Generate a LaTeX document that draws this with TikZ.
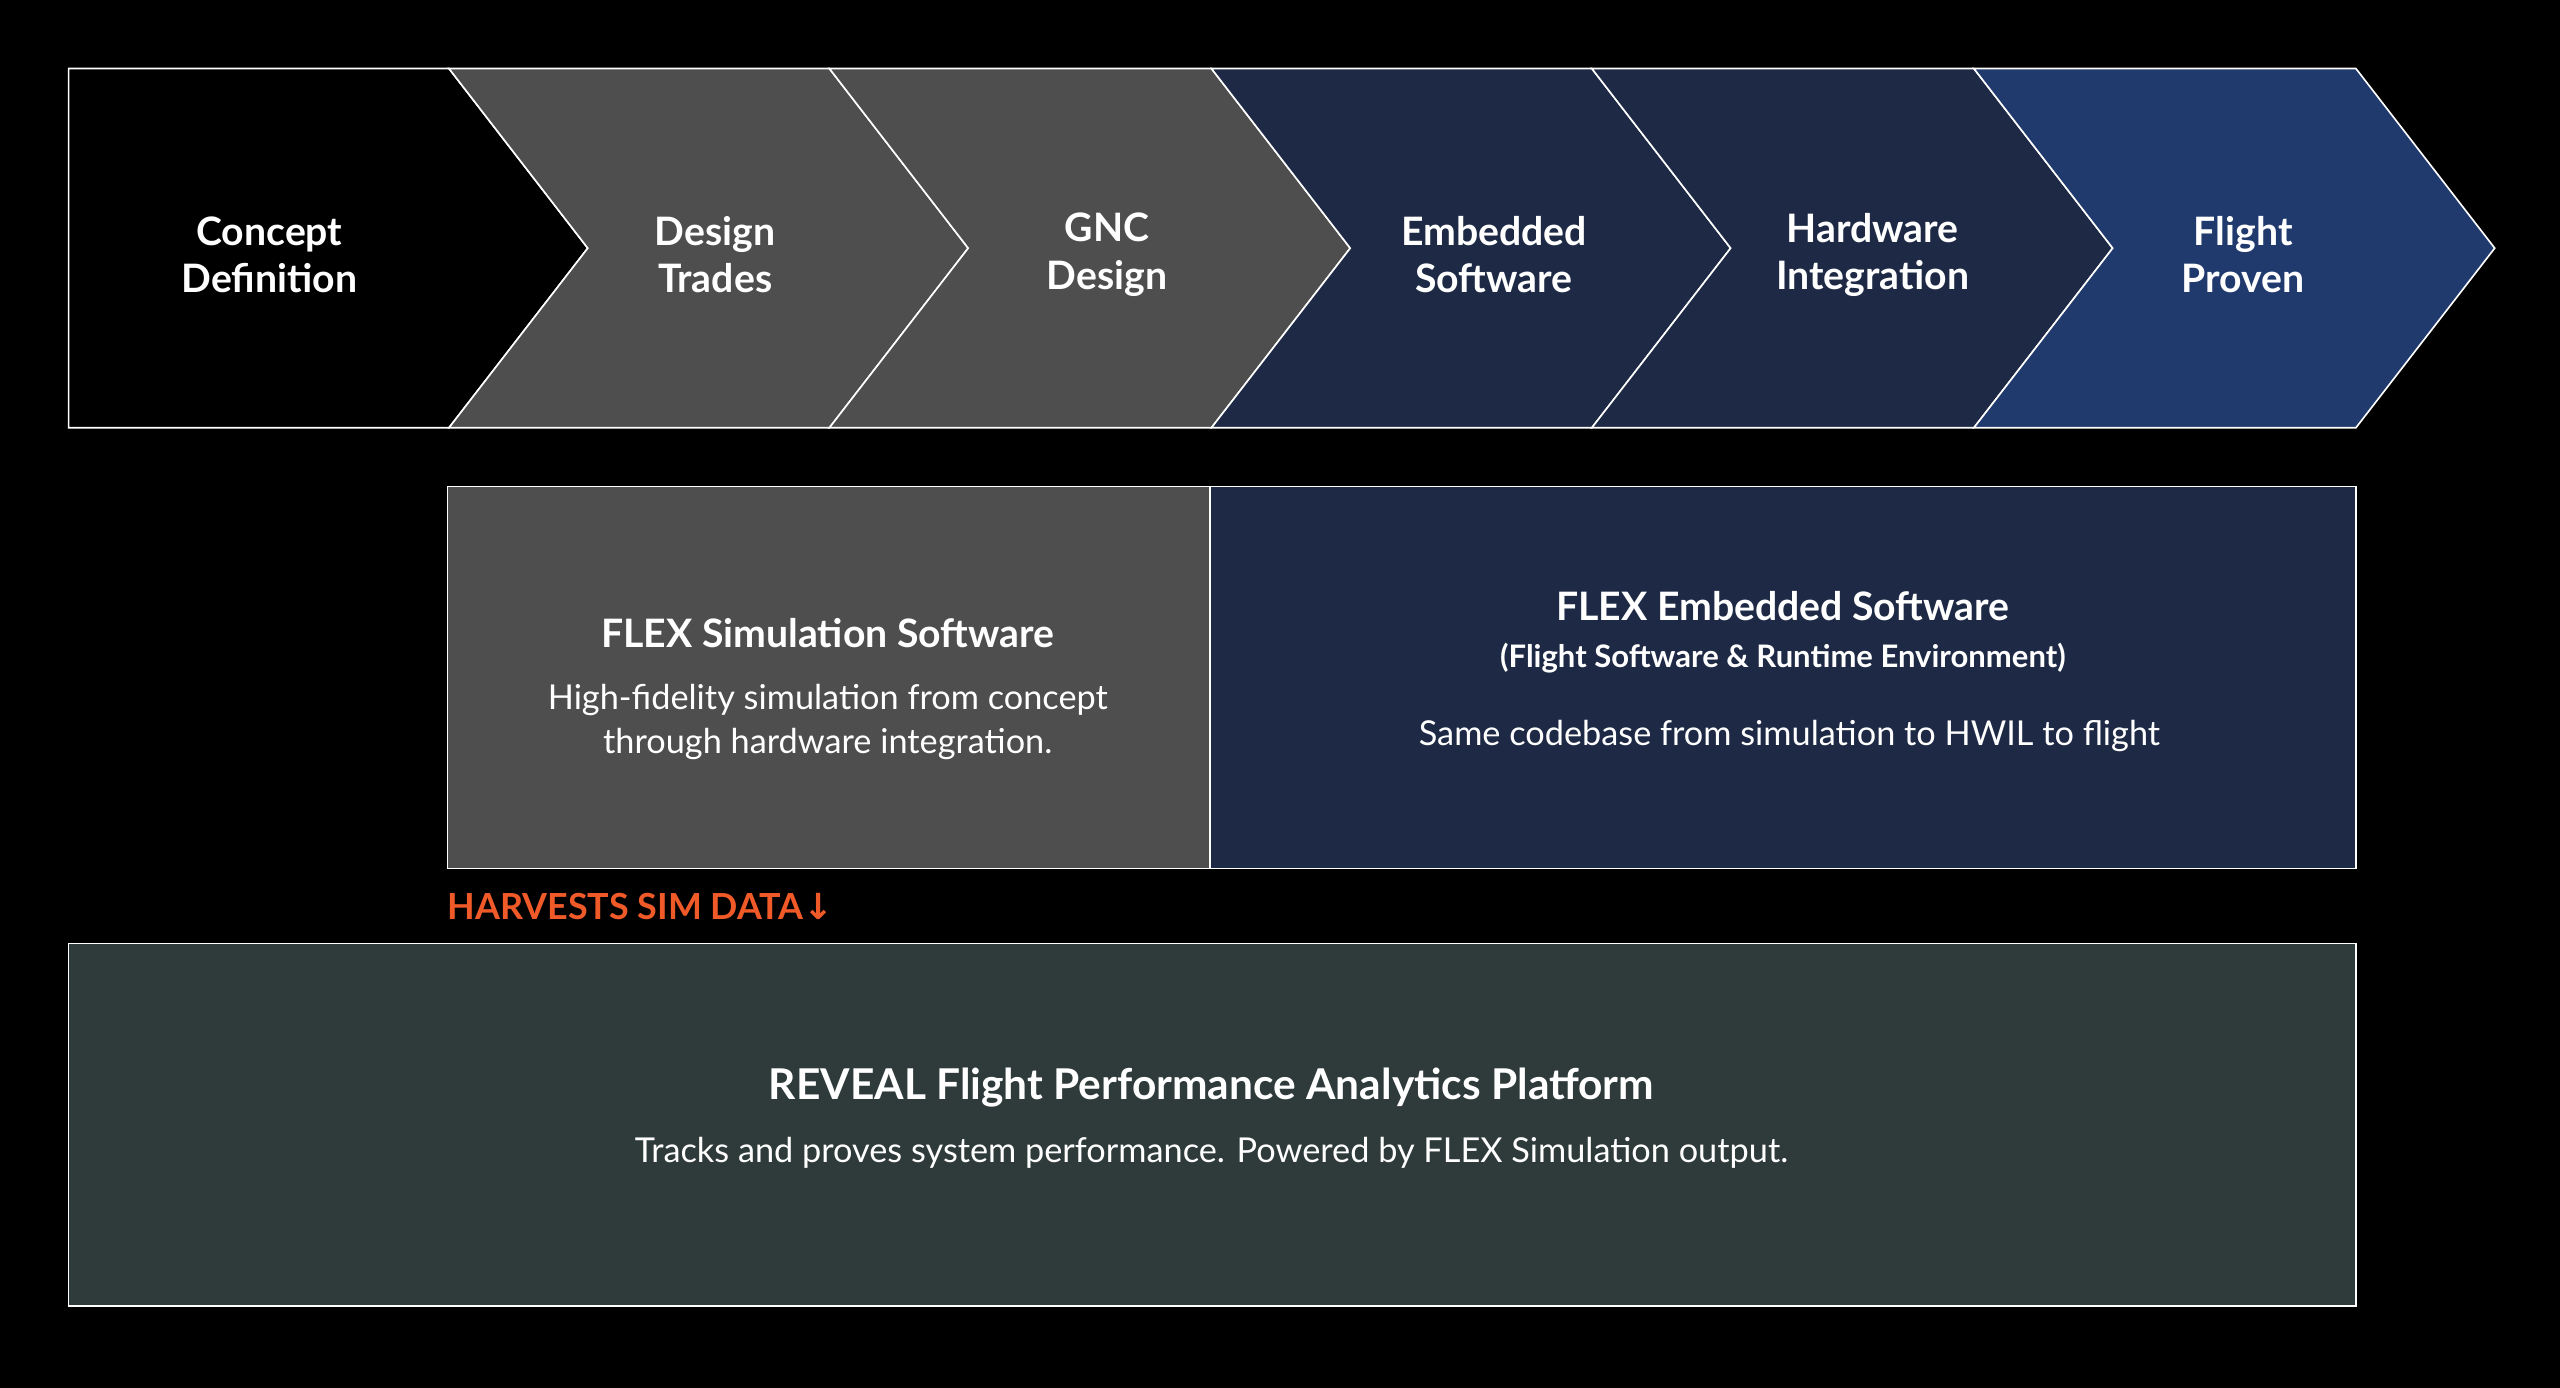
\documentclass[tikz,border=0pt]{standalone}
\usepackage{fontspec}
\setmainfont{Lato}
\newfontfamily\dv{DejaVu Sans}
\begin{document}
\begin{tikzpicture}[x=1pt,y=-1pt,
 chev/.style={draw=white,line width=1pt,line join=miter},
 lab/.style={text=white,font=\fontsize{24}{29}\selectfont\bfseries,align=center},
 box/.style={draw=white,line width=1pt}]
\definecolor{gr}{HTML}{4D4E4D}
\definecolor{nv}{HTML}{1E2A45}
\definecolor{bl}{HTML}{213A6E}
\definecolor{dk}{HTML}{2F3B3A}
\definecolor{org}{HTML}{F05A28}
\fill[black] (0,0) rectangle (1568,850);
\useasboundingbox (0,0) rectangle (1568,850);
% chevrons
\draw[chev,fill=black] (42,42) -- (275,42) -- (360,152) -- (275,262) -- (42,262) -- cycle;
\draw[chev,fill=gr] (275,42) -- (508,42) -- (593,152) -- (508,262) -- (275,262) -- (360,152) -- cycle;
\draw[chev,fill=gr] (508,42) -- (742,42) -- (827,152) -- (742,262) -- (508,262) -- (593,152) -- cycle;
\draw[chev,fill=nv] (742,42) -- (975,42) -- (1060,152) -- (975,262) -- (742,262) -- (827,152) -- cycle;
\draw[chev,fill=nv] (975,42) -- (1209,42) -- (1294,152) -- (1209,262) -- (975,262) -- (1060,152) -- cycle;
\draw[chev,fill=bl] (1209,42) -- (1443,42) -- (1528,152) -- (1443,262) -- (1209,262) -- (1294,152) -- cycle;
\node[lab] (c1) at (165,156) {Concept\\Definition};
\node[lab] (c2) at (438,156) {Design\\Trades};
\node[lab] (c3) at (678,156) {GNC\\Design};
\node[lab] (c4) at (915,156) {Embedded\\Software};
\node[lab] (c5) at (1147,156) {Hardware\\Integration};
\node[lab] (c6) at (1374,156) {Flight\\Proven};
% middle boxes
\draw[box,fill=gr] (274,298) rectangle (741,532);
\draw[box,fill=nv] (741,298) rectangle (1443,532);
\node[text=white,font=\fontsize{24}{29}\selectfont\bfseries] (s1) at (507,388) {FLEX Simulation Software};
\node[text=white,font=\fontsize{21}{27}\selectfont,align=center] (s2) at (507,442) {High-fidelity simulation from concept\\through hardware integration.};
\node[text=white,font=\fontsize{24}{29}\selectfont\bfseries] (e1) at (1092,371) {FLEX Embedded Software};
\node[text=white,font=\fontsize{19}{24}\selectfont\bfseries] (e2) at (1092,403) {(Flight Software \& Runtime Environment)};
\node[text=white,font=\fontsize{21}{27}\selectfont] (e3) at (1096,451) {Same codebase from simulation to HWIL to flight};
\node[anchor=west,inner sep=0,text=org,font=\fontsize{22}{26}\selectfont\bfseries] (h) at (274,555) {HARVESTS SIM DATA{\dv ↓}};
% bottom
\draw[box,fill=dk] (42,578) rectangle (1443,800);
\node[text=white,font=\fontsize{26}{31}\selectfont\bfseries] (r1) at (742,666) {REVEAL Flight Performance Analytics Platform};
\node[text=white,font=\fontsize{21}{27}\selectfont] (r2) at (742,706) {Tracks and proves system performance. Powered by FLEX Simulation output.};
\end{tikzpicture}
\end{document}
